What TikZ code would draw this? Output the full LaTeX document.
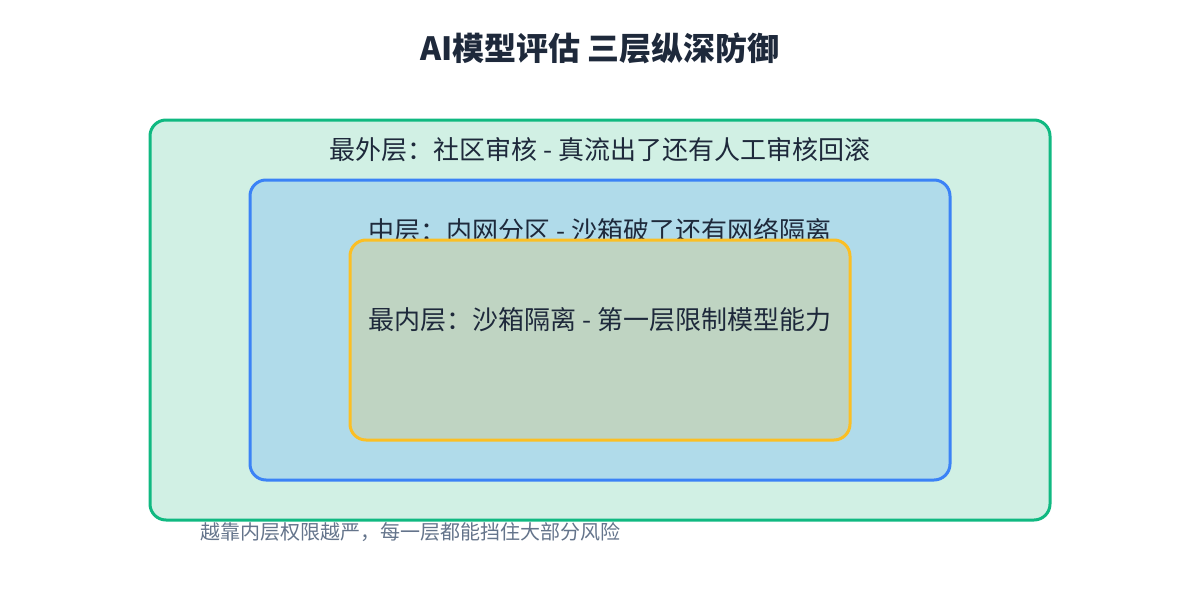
\documentclass[tikz,border=0pt]{standalone}
\usepackage{fontspec}
\setmainfont{Noto Sans CJK SC}
\usetikzlibrary{positioning}
\definecolor{textdark}{RGB}{30,41,59}
\definecolor{notegray}{RGB}{100,116,139}
\definecolor{outerline}{RGB}{16,185,129}
\definecolor{outerfill}{RGB}{209,240,228}
\definecolor{midline}{RGB}{59,130,246}
\definecolor{midfill}{RGB}{176,219,234}
\definecolor{innerline}{RGB}{251,191,36}
\definecolor{innerfill}{RGB}{191,212,194}
\begin{document}
\begin{tikzpicture}[x=1pt,y=-1pt,
	layerbox/.style={draw, rounded corners=16pt, line width=3pt, inner sep=0pt},
	layertext/.style={text=textdark, font=\fontsize{26}{30}\selectfont}]
			\useasboundingbox (0,0) rectangle (1200,600);
			\node at (600,48) (title) [text=textdark, font=\fontsize{32}{38}\selectfont\bfseries] {AI模型评估 三层纵深防御};
			\node at (600,320) (outer) [layerbox, draw=outerline, fill=outerfill, minimum width=900pt, minimum height=400pt] {};
			\node at (600,150) (outerlabel) [layertext] {最外层：社区审核 - 真流出了还有人工审核回滚};
			\node at (600,330) (middle) [layerbox, draw=midline, fill=midfill, minimum width=700pt, minimum height=300pt] {};
			\node at (600,231) (middlelabel) [layertext] {中层：内网分区 - 沙箱破了还有网络隔离};
			\node at (600,340) (inner) [layerbox, draw=innerline, fill=innerfill, minimum width=500pt, minimum height=200pt] {};
			\node at (600,320) (innerlabel) [layertext] {最内层：沙箱隔离 - 第一层限制模型能力};
			\node at (200,532) (note) [anchor=west, inner sep=0pt, text=notegray, font=\fontsize{20}{24}\selectfont] {越靠内层权限越严，每一层都能挡住大部分风险};
\end{tikzpicture}
\end{document}
